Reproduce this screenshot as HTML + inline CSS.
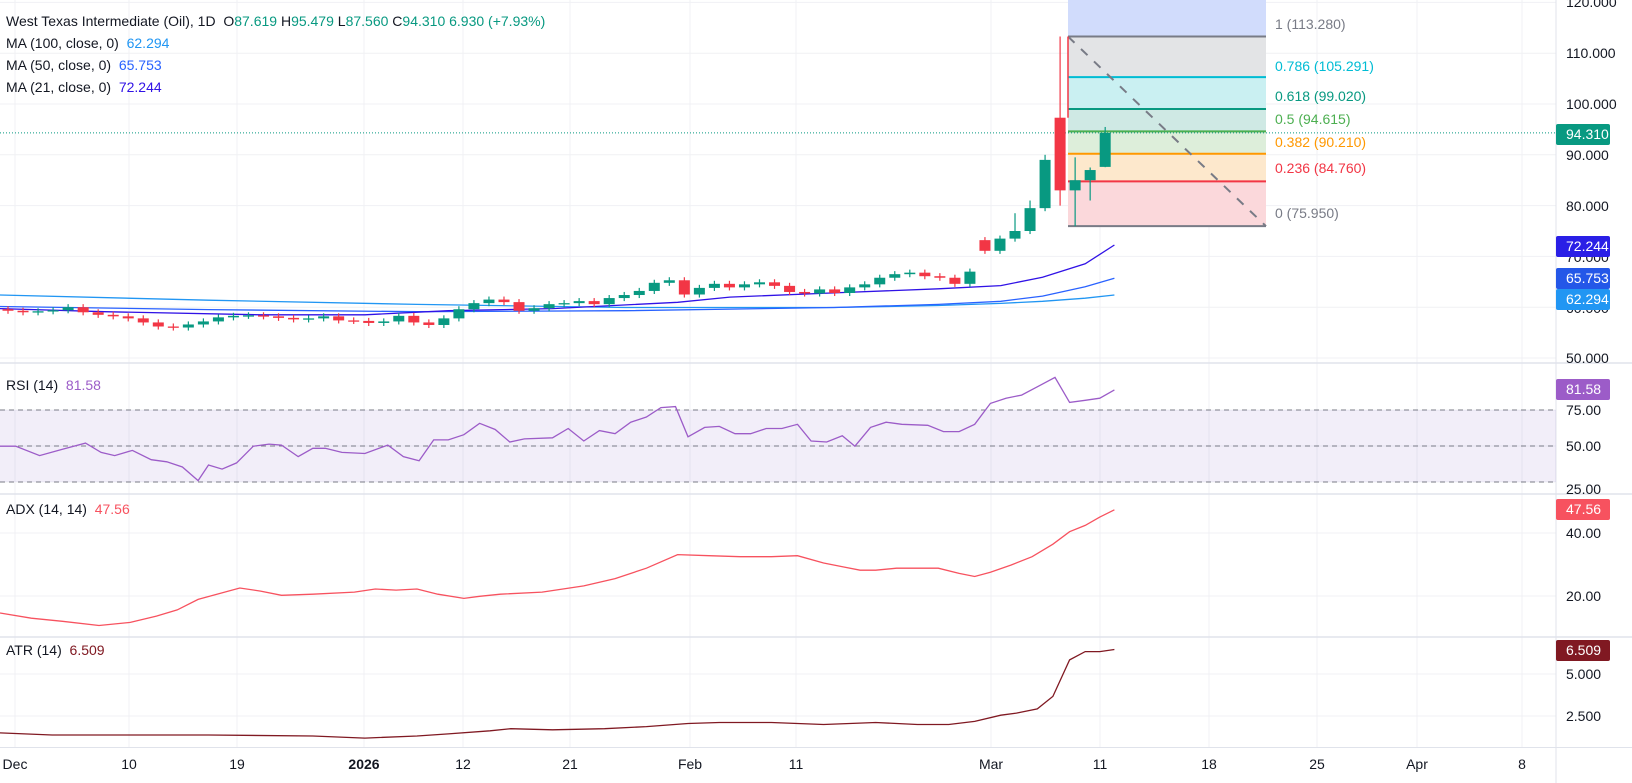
<!DOCTYPE html>
<html><head><meta charset="utf-8"><style>
body{margin:0;background:#fff;font-family:"Liberation Sans",sans-serif;}
svg{display:block}
text{font-family:"Liberation Sans",sans-serif;}
</style></head><body>
<svg id="s" width="1632" height="783" xmlns="http://www.w3.org/2000/svg"></svg>
<script>
const S=document.getElementById('s');let h='';
const K=1.0425;
const py=p=>104+(100-p)*5.08;
// grid
const vx=[15,129,237,364,463,570,690,796,991,1100,1209,1317,1417,1522];
const vl=['Dec','10','19','2026','12','21','Feb','11','Mar','11','18','25','Apr','8'];
vx.forEach(x=>h+=`<line x1="${x}" x2="${x}" y1="0" y2="747" stroke="#f0f1f4"/>`);
for(let p=50;p<=120;p+=10)h+=`<line x1="0" x2="1556" y1="${py(p)}" y2="${py(p)}" stroke="#f0f1f4"/>`;
[[410],[446],[482],[533],[596],[674],[716]].forEach(a=>h+=`<line x1="0" x2="1556" y1="${a[0]}" y2="${a[0]}" stroke="#f0f1f4"/>`);
// separators
[363,494,637].forEach(y=>h+=`<line x1="0" x2="1632" y1="${y}" y2="${y}" stroke="#e0e3eb" stroke-width="1.5"/>`);
h+=`<line x1="0" x2="1632" y1="747.5" y2="747.5" stroke="#e0e3eb"/>`;
h+=`<line x1="1556" x2="1556" y1="0" y2="783" stroke="#e0e3eb"/>`;
// fib
const fx1=1068,fx2=1266;
const fl=[[1,113.28,'#787b86','#d1dcfc'],[0.786,105.291,'#00bcd4','#e3e4e6'],[0.618,99.02,'#089981','#caf0f2'],[0.5,94.615,'#4caf50','#cfe9e4'],[0.382,90.21,'#ff9800','#ddeeda'],[0.236,84.76,'#f23645','#fde8cc'],[0,75.95,'#787b86','#fbd8db']];
let prev=0;
fl.forEach(f=>{const y=py(f[1]);h+=`<rect x="${fx1}" y="${prev}" width="${fx2-fx1}" height="${y-prev}" fill="${f[3]}"/>`;prev=y;});
fl.forEach((f,i)=>{const y=py(f[1]);h+=`<line x1="${fx1}" x2="${fx2}" y1="${y}" y2="${y}" stroke="${f[2]}" stroke-width="2"/>`;
const ly=[24,66,96,119,142,168,213][i];
h+=`<text x="1275" y="${ly+5}" font-size="14" fill="${f[2]}">${f[0]} (${f[1].toFixed(3)})</text>`;});
h+=`<line x1="${fx1}" y1="${py(113.28)}" x2="${fx2}" y2="${py(75.95)}" stroke="#787b86" stroke-width="2" stroke-dasharray="9,9"/>`;
h+=`<line x1="${fx1}" y1="${py(113.28)}" x2="${fx1}" y2="${py(97.3)}" stroke="#f23645" stroke-width="1.5"/>`;
// current price line
h+=`<line x1="0" x2="1556" y1="${py(94.31)}" y2="${py(94.31)}" stroke="#089981" stroke-dasharray="1,2"/>`;
// MAs (estimated coords, scaled)
function pl(pts,col,w){return `<polyline fill="none" stroke="${col}" stroke-width="${w||1.3}" points="${pts.map(p=>(p[0]*K).toFixed(1)+','+(p[1]*K).toFixed(1)).join(' ')}"/>`;}
h+=pl([[0,283],[200,288],[400,292],[600,295],[800,295],[900,293],[960,291],[1000,289],[1041,286],[1069,283]],'#2196f3');
h+=pl([[0,294],[200,297],[400,299],[600,298],[800,295],[900,292],[960,289],[1000,284],[1041,275],[1069,267]],'#2962ff');
h+=pl([[0,296],[100,299],[250,302],[350,302],[430,298],[530,296],[650,290],[700,285],[800,281],[900,277],[960,274],[1000,266],[1041,253],[1069,235]],'#3012e6');
// candles
const C=[59.3,59.0,59.2,59.4,60.0,59.0,58.5,58.2,57.8,57.0,56.2,56.0,56.6,57.2,58.0,58.3,58.4,58.2,57.9,57.6,57.8,58.2,57.4,
57.3,56.9,57.2,58.3,57.0,56.5,57.8,59.6,60.8,61.5,61.0,59.3,59.8,60.6,60.8,61.2,60.6,61.8,62.4,63.2,64.8,65.3,
62.5,63.8,64.6,63.9,64.5,64.9,64.2,63.0,62.7,63.5,62.8,63.9,64.5,65.8,66.5,66.8,66.1,65.8,64.6,67.0,
71.1,73.5,75.0,79.5,89.0];
let O=[],H=[],L=[],CC=C.slice();
for(let i=0;i<C.length;i++){let o=i?C[i-1]:59.6;if(i==65)o=73.2;O.push(o);H.push(Math.max(o,C[i])+0.6);L.push(Math.min(o,C[i])-0.6);}
H[67]=78.5;H[68]=81;H[69]=90;
O.push(97.3,83,85,87.62);CC.push(83,85,87,94.31);H.push(113.28,89.5,87.5,95.48);L.push(80,75.95,81,87.56);
CC.forEach((c,i)=>{const x=8+i*15.03,o=O[i],up=c>=o,col=up?'#089981':'#f23645';
h+=`<line x1="${x}" x2="${x}" y1="${py(H[i])}" y2="${py(L[i])}" stroke="${col}" stroke-width="1.2"/>`;
const y1=py(Math.max(o,c)),y2=py(Math.min(o,c));h+=`<rect x="${x-5.5}" y="${y1}" width="11" height="${Math.max(1.3,y2-y1)}" fill="${col}"/>`;});
// RSI
h+=`<rect x="0" y="410" width="1556" height="72" fill="#7e57c2" fill-opacity="0.1"/>`;
[410,446,482].forEach(y=>h+=`<line x1="0" x2="1556" y1="${y}" y2="${y}" stroke="#787b86" stroke-dasharray="5,4"/>`);
h+=pl([[0,428],[15,428],[38,437],[60,431],[82,425],[97,434],[110,437],[127,432],[145,441],[160,443],[175,448],[190,461],[200,446],[213,450],[227,444],[243,428],[258,426],[270,427],[286,438],[300,430],[312,430],[328,434],[350,435],[372,427],[387,438],[402,442],[416,422],[430,422],[445,417],[460,406],[475,412],[489,424],[503,421],[530,420],[545,411],[560,423],[575,413],[590,416],[605,405],[620,400],[634,391],[648,390],[660,419],[676,410],[690,409],[705,416],[720,416],[735,411],[750,411],[765,407],[778,423],[793,424],[808,418],[820,428],[835,410],[850,405],[865,407],[890,408],[905,414],[920,414],[935,407],[950,387],[965,382],[980,379],[995,371],[1012,362],[1026,386],[1041,384],[1055,382],[1069,374]],'#9c5cc8');
h+=pl([[0,588],[30,593],[60,596],[95,600],[125,597],[150,591],[170,585],[190,575],[230,564],[250,567],[270,571],[300,570],[340,568],[360,565],[380,566],[400,565],[420,570],[445,574],[460,572],[480,570],[520,568],[560,562],[590,555],[620,545],[650,532],[680,533],[710,534],[740,534],[765,533],[790,540],[810,544],[825,547],[840,547],[860,545],[900,545],[920,550],[935,553],[950,549],[970,542],[990,534],[1010,522],[1026,510],[1041,504],[1055,496],[1069,489]],'#f7525f');
h+=pl([[0,703],[50,705],[100,705],[200,705],[300,706],[350,708],[400,706],[430,704],[470,701],[490,699],[530,700],[580,699],[620,697],[660,694],[690,693],[740,693],[790,695],[840,693],[880,695],[910,695],[935,692],[960,686],[975,684],[995,680],[1010,668],[1026,633],[1041,625],[1055,625],[1069,623]],'#801922');
// axis labels
const ax=(t,y)=>h+=`<text x="1566" y="${y+5}" font-size="14" fill="#131722">${t}</text>`;
[[120,2],[110,53],[100,104],[90,155],[80,206],[70,257],[60,308],[50,358]].forEach(a=>ax(a[0]+'.000',a[1]));
ax('75.00',410);ax('50.00',446);ax('25.00',489);ax('40.00',533);ax('20.00',596);ax('5.000',674);ax('2.500',716);
const tag=(t,y,bg)=>{h+=`<rect x="1556" y="${y-10}" width="54" height="21" rx="2" fill="${bg}"/><text x="1566" y="${y+5}" font-size="14" fill="#fff">${t}</text>`;};
tag('94.310',134,'#089981');tag('72.244',246,'#2a1fe6');tag('65.753',278,'#2457e8');tag('62.294',299,'#2196f3');
tag('81.58',389,'#9c5cc8');tag('47.56',509,'#f7525f');tag('6.509',650,'#801922');
vx.forEach((x,i)=>h+=`<text x="${x}" y="769" font-size="14" fill="#131722" text-anchor="middle" ${vl[i]=='2026'?'font-weight="bold"':''}>${vl[i]}</text>`);
// legends
const g='#089981';
h+=`<text x="6" y="26" font-size="14" fill="#131722">West Texas Intermediate (Oil), 1D <tspan fill="#131722">&#160;O</tspan><tspan fill="${g}">87.619</tspan> H<tspan fill="${g}">95.479</tspan> L<tspan fill="${g}">87.560</tspan> C<tspan fill="${g}">94.310</tspan> <tspan fill="${g}">6.930 (+7.93%)</tspan></text>`;
h+=`<text x="6" y="48" font-size="14" fill="#131722">MA (100, close, 0) <tspan fill="#2196f3">&#160;62.294</tspan></text>`;
h+=`<text x="6" y="70" font-size="14" fill="#131722">MA (50, close, 0) <tspan fill="#2962ff">&#160;65.753</tspan></text>`;
h+=`<text x="6" y="92" font-size="14" fill="#131722">MA (21, close, 0) <tspan fill="#3012e6">&#160;72.244</tspan></text>`;
h+=`<text x="6" y="390" font-size="14" fill="#131722">RSI (14) <tspan fill="#9c5cc8">&#160;81.58</tspan></text>`;
h+=`<text x="6" y="514" font-size="14" fill="#131722">ADX (14, 14) <tspan fill="#f7525f">&#160;47.56</tspan></text>`;
h+=`<text x="6" y="655" font-size="14" fill="#131722">ATR (14) <tspan fill="#801922">&#160;6.509</tspan></text>`;
S.innerHTML=h;
</script>
</body></html>
